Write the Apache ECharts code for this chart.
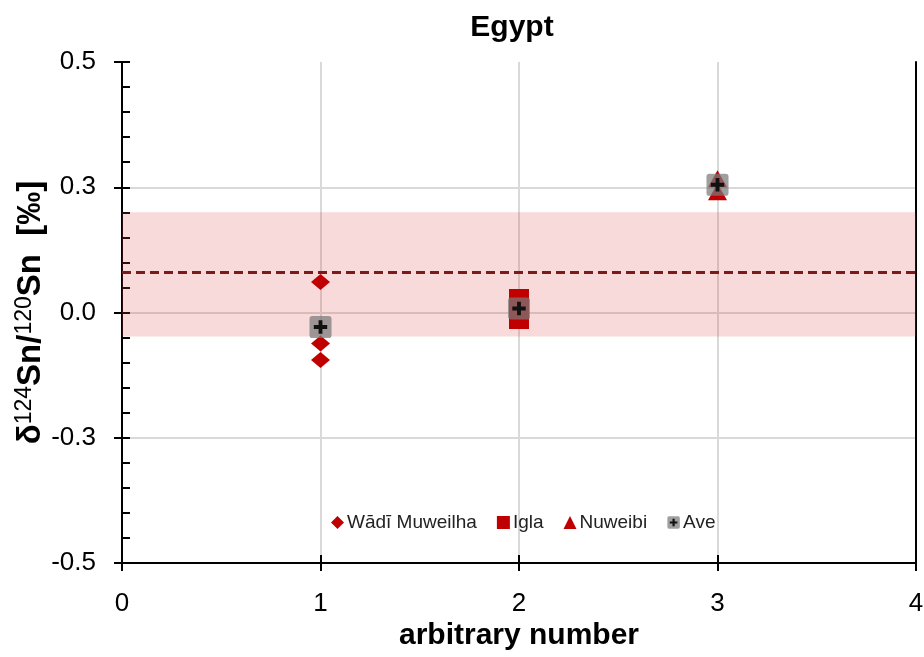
<!DOCTYPE html>
<html>
<head>
<meta charset="utf-8">
<script src="https://cdn.jsdelivr.net/npm/echarts@6/dist/echarts.min.js"></script>
<style>
  html, body { margin: 0; padding: 0; background: #fff; }
  #chart { width: 924px; height: 657px; }
</style>
</head>
<body>
<div id="chart"></div>
<script>
// Sample groups and their δ124Sn/120Sn values
const groupNames = ['Wādī Muweilha', 'Igla', 'Nuweibi', 'Ave'];
const wadiX = [1, 1, 1];
const wadiY = [0.061, -0.062, -0.095];
const iglaX = [2, 2];
const iglaY = [0.027, -0.013];
const nuweibiX = [3, 3];
const nuweibiY = [0.267, 0.241];
const aveX = [1, 2, 3];
const aveY = [-0.029, 0.008, 0.255];

// Reference band and its centre line
const bandLow = -0.048;
const bandHigh = 0.2;
const meanValue = 0.081;

// Axis ranges
const xRange = [0, 4];
const yRange = [-0.5, 0.5];
const yStep = 0.25;

const pairs = (xs, ys) => xs.map((x, i) => [x, ys[i]]);

const font = 'Arial, "Liberation Sans", sans-serif';
const red = '#c00000';
const gridGrey = '#d9d9d9';

// Average marker: translucent grey square with a black cross
const aveSvg = "<svg xmlns='http://www.w3.org/2000/svg' width='24' height='24' viewBox='0 0 24 24'>" +
  "<rect x='0.5' y='0.5' width='23' height='23' rx='3' ry='3' fill='#7a7a7a' fill-opacity='0.72'/>" +
  "<path d='M12 5V19M5 12H19' stroke='#111' stroke-width='4'/></svg>";
const aveSymbol = 'image://data:image/svg+xml;charset=utf-8,' + encodeURIComponent(aveSvg);

const chart = echarts.init(document.getElementById('chart'), null, { renderer: 'canvas' });

const baseY = {
  type: 'value', min: yRange[0], max: yRange[1], interval: yStep
};
const baseX = {
  type: 'value', min: xRange[0], max: xRange[1], interval: 1
};

const option = {
  backgroundColor: '#fff',
  animation: false,
  textStyle: { fontFamily: font },
  title: {
    text: 'Egypt',
    left: 507, top: 8, textAlign: 'center',
    textStyle: { fontFamily: font, fontSize: 30, fontWeight: 'bold', color: '#000' }
  },
  grid: { left: 122, right: 8, top: 62, bottom: 94, containLabel: false, outerBoundsMode: 'none' },
  legend: {
    data: groupNames,
    left: 326, top: 508,
    itemWidth: 13, itemHeight: 13, itemGap: 20,
    textStyle: { fontFamily: font, fontSize: 19, color: '#222', padding: [0, 0, 0, -2] }
  },
  xAxis: [
    Object.assign({}, baseX, {
      position: 'bottom',
      name: 'arbitrary number', nameLocation: 'middle', nameGap: 58, nameMoveOverlap: false,
      nameTextStyle: { fontFamily: font, fontSize: 30, fontWeight: 'bold', color: '#000' },
      axisLine: { show: true, onZero: false, lineStyle: { color: '#000', width: 2 } },
      axisTick: { show: true, inside: false, length: 8, lineStyle: { color: '#000', width: 2 } },
      axisLabel: { fontSize: 26, color: '#000', margin: 28, fontFamily: font },
      splitLine: { show: true, lineStyle: { color: gridGrey, width: 2 } }
    }),
    Object.assign({}, baseX, {
      position: 'bottom',
      axisLine: { show: false, onZero: false },
      axisTick: { show: true, inside: true, length: 8, lineStyle: { color: '#000', width: 2 } },
      axisLabel: { show: false },
      splitLine: { show: false }
    })
  ],
  yAxis: [
    Object.assign({}, baseY, {
      position: 'left',
      name: '{d|δ}{s|124}{d|Sn/}{s|120}{d|Sn  [‰]}',
      nameLocation: 'middle', nameGap: 73, nameRotate: 90, nameMoveOverlap: false,
      nameTextStyle: {
        rich: {
          d: { fontFamily: font, fontSize: 33, fontWeight: 'bold', color: '#000', lineHeight: 36 },
          s: { fontFamily: font, fontSize: 23, color: '#000', lineHeight: 36, verticalAlign: 'top', padding: [0, 0, 12, 0] }
        }
      },
      axisLine: { show: true, onZero: false, lineStyle: { color: '#000', width: 2 } },
      axisTick: { show: true, inside: true, length: 8, lineStyle: { color: '#000', width: 2 } },
      minorTick: { show: true, splitNumber: 5, length: 8, lineStyle: { color: '#000', width: 2 } },
      axisLabel: {
        fontSize: 26, color: '#000', margin: 26, fontFamily: font,
        formatter: v => v.toFixed(1),
        showMaxLabel: true
      },
      // no grid line along the top edge
      splitLine: {
        show: true,
        lineStyle: { color: [gridGrey, gridGrey, gridGrey, gridGrey, 'rgba(0,0,0,0)'], width: 2 }
      }
    }),
    Object.assign({}, baseY, {
      position: 'left',
      axisLine: { show: false, onZero: false },
      axisTick: { show: true, inside: false, length: 8, lineStyle: { color: '#000', width: 2 } },
      axisLabel: { show: false },
      splitLine: { show: false }
    }),
    Object.assign({}, baseY, {
      position: 'right',
      axisLine: { show: true, onZero: false, lineStyle: { color: '#000', width: 2 } },
      axisTick: { show: false },
      axisLabel: { show: false },
      splitLine: { show: false }
    })
  ],
  series: [
    {
      name: 'band',
      type: 'line',
      data: [],
      silent: true,
      markArea: {
        silent: true,
        itemStyle: { color: 'rgba(220, 70, 75, 0.2)' },
        data: [[{ xAxis: xRange[0], yAxis: bandLow }, { xAxis: xRange[1], yAxis: bandHigh }]]
      },
      markLine: {
        silent: true,
        symbol: 'none',
        label: { show: false },
        lineStyle: { color: '#7b1a1a', width: 3, type: [9, 5] },
        data: [[{ coord: [xRange[0], meanValue] }, { coord: [xRange[1], meanValue] }]]
      }
    },
    {
      name: groupNames[0], type: 'scatter', z: 3,
      symbol: 'diamond', symbolSize: [19, 16],
      itemStyle: { color: red, opacity: 1 },
      data: pairs(wadiX, wadiY)
    },
    {
      name: groupNames[1], type: 'scatter', z: 3,
      symbol: 'rect', symbolSize: 20,
      itemStyle: { color: red, opacity: 1 },
      data: pairs(iglaX, iglaY)
    },
    {
      name: groupNames[2], type: 'scatter', z: 3,
      symbol: 'triangle', symbolSize: [19, 17],
      itemStyle: { color: red, opacity: 1 },
      data: pairs(nuweibiX, nuweibiY)
    },
    {
      name: groupNames[3], type: 'scatter', z: 4,
      symbol: aveSymbol, symbolSize: 23,
      itemStyle: { opacity: 1 },
      data: pairs(aveX, aveY)
    }
  ]
};

chart.setOption(option);
</script>
</body>
</html>
